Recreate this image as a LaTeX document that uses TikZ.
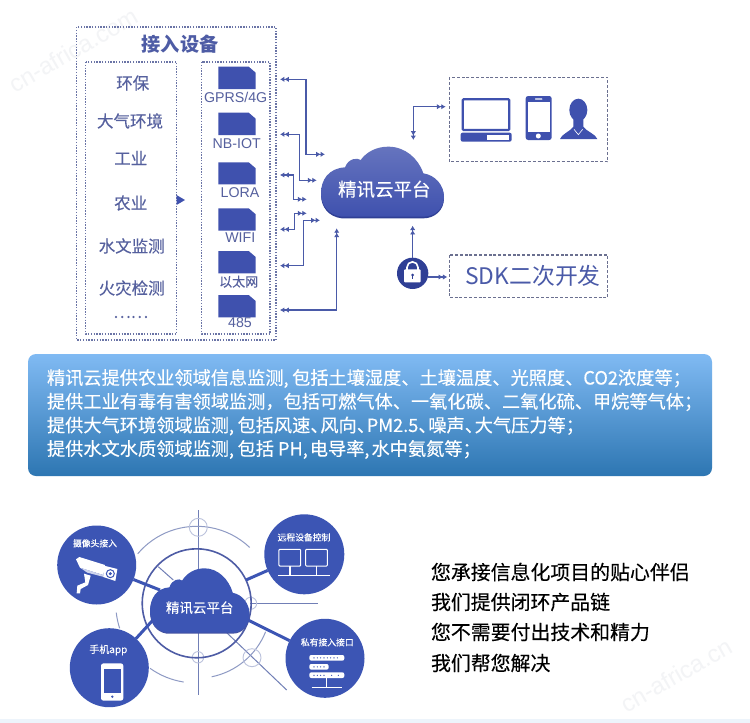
\documentclass[tikz,border=0pt]{standalone}
\usepackage{fontspec}
\setmainfont{Noto Sans CJK SC}
\newfontfamily\latinf{Liberation Sans}
\newfontfamily\medf[FakeBold=0.25]{Noto Sans CJK SC}
\usetikzlibrary{arrows.meta,calc}
\definecolor{ink}{HTML}{3F51AE}
\definecolor{inkdark}{HTML}{2F3F95}
\definecolor{line}{HTML}{4A5AA8}
\definecolor{labelc}{HTML}{55609E}
\definecolor{dotc}{HTML}{6A74A6}
\definecolor{dashc}{HTML}{6B7090}
\definecolor{ringc}{HTML}{8E9AC4}
\definecolor{disc}{HTML}{3C55B4}
\definecolor{paneltop}{HTML}{80BAF3}
\definecolor{panelbot}{HTML}{2D76B2}
\definecolor{footc}{HTML}{EDF4FB}
\definecolor{wmc}{HTML}{F3F4F6}
\newcommand\fsz[1]{\fontsize{#1}{#1}\selectfont}
\newcommand\cloudpath{(215,470) .. controls (175,465) and (153,435) .. (153,400)
 .. controls (153,360) and (175,325) .. (225,322)
 .. controls (235,295) and (262,292) .. (272,300)
 .. controls (290,275) and (320,260) .. (355,260)
 .. controls (405,260) and (445,295) .. (460,340)
 .. controls (495,345) and (522,375) .. (522,410)
 .. controls (522,445) and (495,470) .. (460,470) -- cycle}
\newcommand\chippath[2]{(218.3,#1) -- (248.7,#1) -- (255.7,#1+6) -- (255.7,#2) -- (218.3,#2) -- cycle}
\newcommand\tipd{Latex[length=4.4pt,width=5.4pt]Latex[length=4.4pt,width=5.4pt]}
\newcommand\dun{、\hspace{-.45em}}
\tikzset{
 every node/.style={inner sep=0pt,outer sep=0pt,anchor=center},
 dotbox/.style={draw=dotc,line width=1.1pt,dash pattern=on 1.4pt off 1.4pt},
 dashbox/.style={draw=dashc,line width=1.1pt,dash pattern=on 3pt off 1.8pt},
 biarrow/.style={draw=line,line width=1.4pt,{\tipd}-{\tipd}},
 oneway/.style={draw=line,line width=1.4pt,-{\tipd}},
 sidelabel/.style={text=labelc,font=\medf\fsz{16.5}},
 chiplabel/.style={text=labelc,font=\latinf\fsz{14.2}},
 chip/.style={fill=ink},
 paneltext/.style={text=white,anchor=west,font=\medf\fsz{18.2}},
 righttext/.style={text=black,anchor=west,font=\medf\fsz{19.9}},
 disclabel/.style={text=white,font=\bfseries\fsz{8.8}},
 hub/.style={draw=disc,line width=3pt},
 ring/.style={draw=ringc,line width=1pt},
 smallring/.style={draw=ringc!60!white,line width=.9pt},
 thinline/.style={draw=ringc!70!inkdark,line width=1pt},
 wmark/.style={text=wmc,font=\latinf\fsz{24}},
}
\begin{document}
\begin{tikzpicture}[x=1pt,y=-1pt]
\path[use as bounding box,fill=white] (0,0) rectangle (750,723);
% watermarks and foot band
\node[wmark,rotate=30] (wm1) at (73,50) {cn-africa.com};
\node[wmark,rotate=30] (wm2) at (676,675) {cn-africa.cn};
\fill[footc] (0,718.5) rectangle (750,723);
% access-device boxes
\draw[dotbox] (76.7,27) rectangle (276,340);
\draw[dotbox] (85.7,62) rectangle (176.7,334);
\draw[dotbox] (201.7,62) rectangle (270,334);
\node[text=inkdark!85!white,font=\bfseries\fsz{19.2}] (title) at (180,44) {接入设备};
\node[sidelabel] (s1) at (132.7,83) {环保};
\node[sidelabel] (s2) at (130,121) {大气环境};
\node[sidelabel] (s3) at (130.7,158) {工业};
\node[sidelabel] (s4) at (130.7,203) {农业};
\node[sidelabel] (s5) at (131.7,246) {水文监测};
\node[sidelabel] (s6) at (131.7,288) {火灾检测};
\node[sidelabel] (s7) at (130.7,317) {……};
\fill[ink] (176.5,195) -- (185,200) -- (176.5,205) -- cycle;
% chips
\fill[chip] \chippath{66.7}{89};
\fill[chip] \chippath{112.7}{135};
\fill[chip] \chippath{162.3}{184.3};
\fill[chip] \chippath{208.3}{230.7};
\fill[chip] \chippath{251}{273.3};
\fill[chip] \chippath{295}{317.3};
\node[chiplabel] (c1) at (235.7,97.3) {GPRS/4G};
\node[chiplabel] (c2) at (236.7,144) {NB-IOT};
\node[chiplabel] (c3) at (240,192.7) {LORA};
\node[chiplabel] (c4) at (240.3,237.7) {WIFI};
\node[text=labelc,font=\medf\fsz{13}] (c5) at (238.7,281.7) {以太网};
\node[chiplabel] (c6) at (240,323) {485};
% top cloud
\begin{scope}[shift={(270,60)},scale=0.33333]
 \fill[inkdark,shift={(0,5)}] \cloudpath;
 \shade[top color=ink!80!white,bottom color=ink] \cloudpath;
\end{scope}
\node[text=white,font=\medf\fsz{18.5}] (cloud) at (384.3,189.3) {精讯云平台};
% connectors device <-> cloud
\coordinate (a1) at (280,79.3); \coordinate (v1) at (306,120); \coordinate (b1) at (325,154.3);
\coordinate (a2) at (280,134.3); \coordinate (v2) at (299.3,160); \coordinate (b2) at (316.7,180.3);
\coordinate (a3) at (280,175); \coordinate (v3) at (293.3,190); \coordinate (b3) at (306.7,199.3);
\coordinate (a4) at (280,229.3); \coordinate (v4) at (294.3,220); \coordinate (b4) at (306.7,213.3);
\coordinate (a5) at (280,265.7); \coordinate (v5) at (303.3,240); \coordinate (b5) at (320,220.3);
\coordinate (a6) at (280,310); \coordinate (b6) at (336.7,228.3);
\draw[biarrow] (a1) -| (v1) |- (b1);
\draw[biarrow] (a2) -| (v2) |- (b2);
\draw[biarrow] (a3) -| (v3) |- (b3);
\draw[biarrow] (a4) -| (v4) |- (b4);
\draw[biarrow] (a5) -| (v5) |- (b5);
\draw[biarrow] (a6) -| (b6);
% right boxes
\draw[dashbox] (449.3,77.3) rectangle (607.7,161.7);
\draw[dashbox] (449.3,255) rectangle (607.7,297.7);
\coordinate (d1) at (413.3,140); \coordinate (d2) at (445.7,106.7);
\draw[biarrow] (d1) |- (d2);
\node[text=line,font=\fsz{22.8}] (sdk) at (533,276) {SDK二次开发};
% device icons
\begin{scope}[shift={(270,60)},scale=0.33333]
 \draw[ink,line width=2.2pt,rounded corners=1pt] (578,118) rectangle (718,210);
 \fill[ink,rounded corners=2pt] (572,218) rectangle (725,245);
 \fill[white] (652,224) rectangle (718,239);
 \fill[ink,rounded corners=2.5pt] (767,108) rectangle (845,240);
 \fill[white] (773,126) rectangle (839,216);
 \fill[white] (805,228) circle (7.5);
 \fill[white,rounded corners=.5pt] (795,115) rectangle (817,119);
 \fill[ink] (925,150) ellipse (27 and 34);
 \fill[ink] (870,237) .. controls (875,222) and (900,215) .. (910,200) -- (910,175) -- (940,175) -- (940,200)
   .. controls (950,215) and (977,222) .. (982,237) -- cycle;
 \draw[white,line width=.6pt] (912,208) -- (925,224) -- (938,208);
 % lock
 \fill[inkdark] (428,640) circle (47);
 \draw[white,line width=1.6pt] (411,632) -- (411,622) arc[start angle=180,end angle=360,radius=16.5] -- (444,632);
 \fill[white,rounded corners=1pt] (402,628) rectangle (452,667);
 \fill[inkdark] (428,645) circle (4.5);
 \fill[inkdark] (426,645) rectangle (430,656);
 \coordinate (lk1) at (428,593); \coordinate (lk2) at (428,497);
 \coordinate (lk3) at (475,651); \coordinate (lk4) at (532,651);
\end{scope}
\draw[oneway] (lk1) -- (lk2);
\draw[oneway] (lk3) -- (lk4);
% panel
\shade[rounded corners=8pt,top color=paneltop,bottom color=panelbot] (28,354) rectangle (712,476);
\node[paneltext] (t1) at (47,378.5) {精讯云提供农业领域信息监测,\hspace{3.5pt}包括土壤湿度、土壤温度、光照度、CO2浓度等；};
\node[paneltext] (t2) at (47,402) {提供工业有毒有害领域监测，包括可燃气体、一氧化碳、二氧化硫、甲烷等气体；};
\node[paneltext] (t3) at (47,426) {提供大气环境领域监测,\hspace{3.5pt}包括风速\dun 风向\dun PM2.5\dun 噪声\dun 大气压力等；};
\node[paneltext] (t4) at (47,449.5) {提供水文水质领域监测,\hspace{3.5pt}包括 PH,\hspace{2pt}电导率,\hspace{2pt}水中氨氮等；};
% hub diagram
\coordinate (hubc) at (196.7,603.3);
\coordinate (vt) at (198.3,510); \coordinate (vb) at (198.3,695);
\coordinate (hl) at (250,603.3); \coordinate (hr) at (318.3,603.3);
\coordinate (dg1) at (226.7,632.7); \coordinate (dg2) at (286.7,690);
\coordinate (tk1) at (158.3,566.7); \coordinate (tk2) at (173.3,580);
\draw[thinline] (vt) -- (vb);
\draw[thinline] (hl) -- (hr);
\draw[thinline] (dg1) -- (dg2);
\draw[thinline] (tk1) -- (tk2);
\draw[ring] (hubc) ++(-140:77) arc[start angle=-140,end angle=-46.5,radius=77];
\draw[ring] (hubc) ++(125.6:80) arc[start angle=125.6,end angle=98.8,radius=78];
\draw[ring] (hubc) ++(78.5:75) arc[start angle=78.5,end angle=21.8,radius=74];
\draw[ring] (hubc) ++(173.4:81) arc[start angle=173.4,end angle=162,radius=81];
\draw[smallring] (198.3,527.3) circle (9);
\draw[smallring] (250.7,603.3) circle (6);
\draw[smallring] (198,657.3) circle (5.7);
\draw[smallring] (252,657.7) circle (9);
\draw[inkdark!85!white,line width=1.6pt] (hubc) circle (54.5);
% satellites
\node[circle,fill=disc,minimum size=79pt] (cam) at (96.7,565) {};
\node[circle,fill=disc,minimum size=80pt] (rem) at (304.3,554.3) {};
\node[circle,fill=disc,minimum size=79pt] (app) at (109.3,667.7) {};
\node[circle,fill=disc,minimum size=79pt] (prv) at (325,658.3) {};
\coordinate (h1) at (160,590); \coordinate (h2) at (246,580);
\coordinate (h3) at (153,620); \coordinate (h4) at (248,620);
\draw[hub] (cam) -- (h1);
\draw[hub] (rem) -- (h2);
\draw[hub] (app) -- (h3);
\draw[hub] (prv) -- (h4);
\begin{scope}[shift={(108.8,488.6)},xscale=0.2695,yscale=0.3066]
 \fill[inkdark!90!white,shift={(0,3)}] \cloudpath;
 \fill[disc] \cloudpath;
\end{scope}
\node[text=white,font=\medf\fsz{13.5}] (cloud2) at (199.7,607.7) {精讯云平台};
\node[disclabel,font=\medf\fsz{8.8}] (l1) at (95,543.3) {摄像头接入};
\node[disclabel,font=\medf\fsz{8.8}] (l2) at (304,537.3) {远程设备控制};
\node[disclabel,font=\medf\fsz{10}] (l3) at (108.3,650) {手机app};
\node[disclabel,font=\medf\fsz{8.8}] (l4) at (327.3,642.3) {私有接入接口};
% camera icon
\begin{scope}[shift={(60,525)},scale=0.33333]
 \fill[white] (48,103) -- (58,96) -- (135,120) -- (130,150) -- (60,128) -- cycle;
 \fill[white!75!disc] (60,128) -- (130,150) -- (132,156) -- (82,143) -- cycle;
 \fill[white] (132,122) -- (172,132) -- (166,168) -- (130,156) -- cycle;
 \draw[disc,line width=1pt] (151,146) circle (12);
 \fill[disc] (151,146) circle (5);
 \fill[white] (72,146) -- (92,152) -- (84,180) -- (62,192) -- (60,205) -- (50,205) -- (52,182) -- (76,172) -- cycle;
\end{scope}
% monitor icon
\begin{scope}[shift={(40,510)},scale=0.33333]
 \draw[white,line width=1pt,rounded corners=.8pt] (717,118) rectangle (782,168);
 \draw[white,line width=1pt,rounded corners=.8pt] (797,118) rectangle (862,168);
 \draw[white,line width=1.1pt] (750,168) -- (750,197) (830,168) -- (830,197) (715,197) -- (870,197);
 % phone icon
 \fill[white,rounded corners=2.5pt] (183,460) rectangle (250,572);
 \fill[disc] (192,478) rectangle (243,548);
 \fill[disc] (217,560) circle (4);
 % server icon
 \foreach \yy/\xr in {435/913,462/866,487/913}{
   \fill[white,rounded corners=2pt] (808,\yy) rectangle (\xr,\yy+17);
 }
 \foreach \xx in {822,832,842,852,862,872,882,892}{\fill[disc] (\xx,443.5) circle (2);}
 \foreach \xx in {822,832,842,852}{\fill[disc] (\xx,470.5) circle (2);}
 \foreach \xx in {822,832,842,852,875,895}{\fill[disc] (\xx,496) circle (2);}
 \draw[white,line width=1.1pt] (860,504) -- (860,532) (815,532) -- (905,532);
\end{scope}
% right text
\node[righttext] (r1) at (431,572) {您承接信息化项目的贴心伴侣};
\node[righttext] (r2) at (431,602) {我们提供闭环产品链};
\node[righttext] (r3) at (431,632) {您不需要付出技术和精力};
\node[righttext] (r4) at (431,663) {我们帮您解决};
\end{tikzpicture}
\end{document}
